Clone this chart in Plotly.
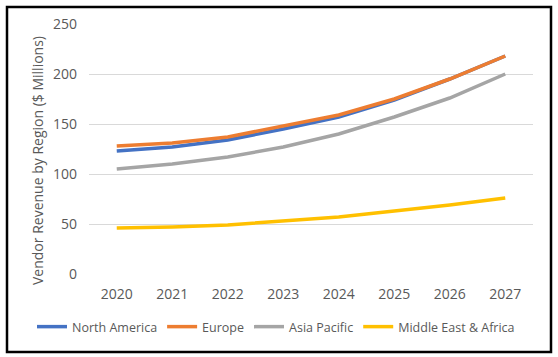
import plotly.graph_objects as go

years = ["2020", "2021", "2022", "2023", "2024", "2025", "2026", "2027"]
north_america = [123, 127, 134, 145, 157, 174, 195, 218]
europe = [128, 131, 137, 148, 159, 175, 195, 218]
asia_pacific = [105, 110, 117, 127, 140, 157, 176, 200]
middle_east_africa = [46, 47, 49, 53, 57, 63, 69, 76]

series = [
    ("North America", north_america, "#4472C4"),
    ("Europe", europe, "#ED7D31"),
    ("Asia Pacific", asia_pacific, "#A5A5A5"),
    ("Middle East & Africa", middle_east_africa, "#FFC000"),
]

W, H = 558, 357
L, R, T, B = 89, 533, 24, 274  # plot area pixels

fig = go.Figure()
for name, vals, color in series:
    fig.add_trace(go.Scatter(x=years, y=vals, name=name, mode="lines",
                             line=dict(color=color, width=3.5)))

font = dict(family="Open Sans", size=14, color="#595959")
legend_font = dict(family="Open Sans", size=12.5, color="#595959")

def px(xp):
    return (xp - L) / (R - L)

def py(yp):
    return (B - yp) / (B - T)

fig.update_layout(
    width=W, height=H,
    margin=dict(l=L, r=W - R, t=T, b=H - B, autoexpand=False),
    paper_bgcolor="white", plot_bgcolor="white",
    font=font,
    showlegend=True,
    legend=dict(orientation="h", x=px(32), y=py(327), xanchor="left", yanchor="middle",
                font=legend_font, itemwidth=30, tracegroupgap=0, bgcolor="rgba(0,0,0,0)"),
    xaxis=dict(type="category", range=[-0.5, 7.5], showgrid=False, showline=False,
               zeroline=False, ticks="", tickfont=font, ticklabelstandoff=10),
    yaxis=dict(range=[0, 250], dtick=50, showgrid=True, gridcolor="#D9D9D9", gridwidth=1,
               zeroline=False, showline=False, ticks="", tickfont=font, ticklabelstandoff=11),
    shapes=[dict(type="rect", xref="paper", yref="paper",
                 x0=px(7), x1=px(551), y0=py(352), y1=py(7),
                 line=dict(color="black", width=2.5), fillcolor="rgba(0,0,0,0)", layer="above")],
    annotations=[dict(text="Vendor Revenue by Region ($ Millions)", xref="paper", yref="paper",
                      x=px(37), y=py(161), textangle=-90, showarrow=False, font=font,
                      xanchor="center", yanchor="middle")],
)

fig.write_html("out.html", config={"displayModeBar": False},
               post_script="document.body.style.margin='0';document.body.style.padding='0';")
